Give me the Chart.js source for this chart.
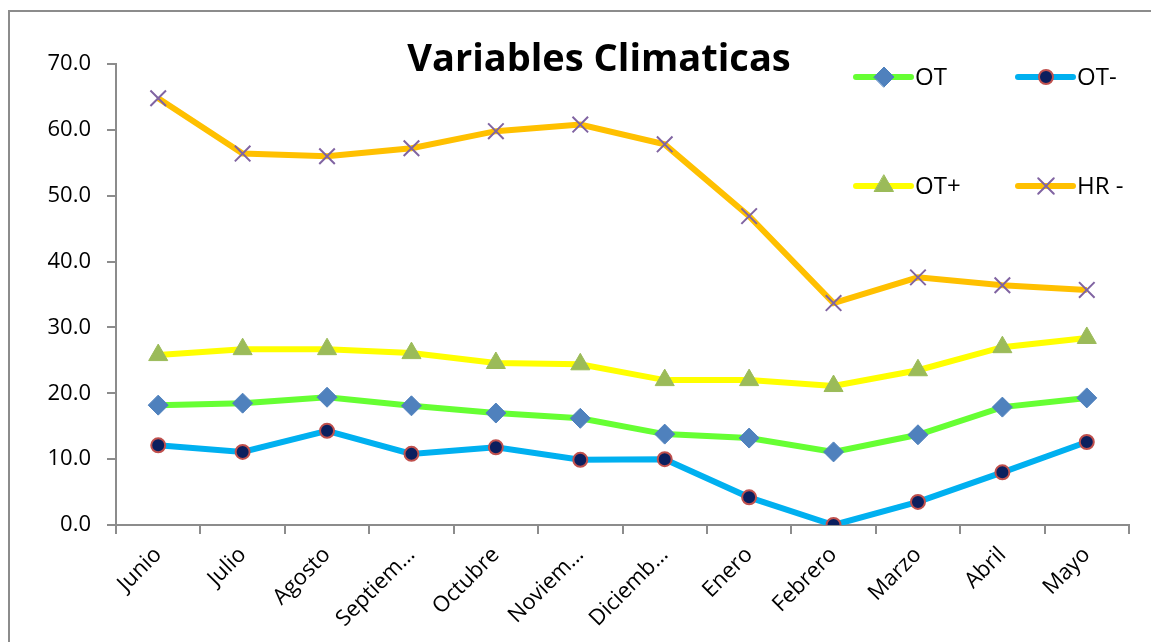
<!DOCTYPE html>
<html>
<head>
<meta charset="utf-8">
<script src="https://cdn.jsdelivr.net/npm/chart.js@4/dist/chart.umd.min.js"></script>
<style>
  body { margin: 0; background: #fff; }
  .frame { position: absolute; left: 8px; top: 10px; width: 1200px; height: 700px;
           border-left: 2px solid #8c8c8c; border-top: 2px solid #8c8c8c; }
  .chart-container { position: absolute; left: 0; top: 0; width: 1151px; height: 642px; }
</style>
</head>
<body>
<div class="frame"></div>
<div class="chart-container"><canvas id="climaChart"></canvas></div>
<script>
const meses = ['Junio', 'Julio', 'Agosto', 'Septiem…', 'Octubre', 'Noviem…', 'Diciemb…', 'Enero', 'Febrero', 'Marzo', 'Abril', 'Mayo'];
const ot      = [18.2, 18.5, 19.4, 18.1, 17.0, 16.2, 13.8, 13.2, 11.1, 13.7, 17.9, 19.3];
const otMenos = [12.1, 11.1, 14.3, 10.8, 11.8, 9.9, 10.0, 4.2, 0.0, 3.5, 8.0, 12.6];
const otMas   = [25.8, 26.7, 26.7, 26.1, 24.6, 24.4, 22.0, 22.0, 21.1, 23.5, 27.0, 28.4];
const hrMenos = [64.8, 56.4, 56.0, 57.2, 59.8, 60.8, 57.8, 46.9, 33.7, 37.6, 36.4, 35.7];
const yTicks  = [0, 10, 20, 30, 40, 50, 60, 70];

const FONT = '"Open Sans", sans-serif';

// title + 2x2 legend drawn like the Excel original
const excelDecor = {
    id: 'excelDecor',
    afterDraw(chart) {
        const ctx = chart.ctx;
        ctx.save();
        ctx.fillStyle = '#000';
        ctx.font = 'bold 38px ' + FONT;
        ctx.textAlign = 'center';
        ctx.textBaseline = 'middle';
        ctx.fillText('Variables Climaticas', 599, 60);

        const slots = [[856, 77], [1018, 77], [856, 186], [1018, 186]];
        chart.data.datasets.forEach((ds, i) => {
            const [x, y] = slots[i];
            ctx.strokeStyle = ds.borderColor;
            ctx.lineWidth = 6;
            ctx.lineCap = 'round';
            ctx.beginPath();
            ctx.moveTo(x, y);
            ctx.lineTo(x + 55, y);
            ctx.stroke();
            ctx.fillStyle = ds.pointBackgroundColor;
            ctx.strokeStyle = ds.pointBorderColor;
            ctx.lineWidth = ds.pointBorderWidth;
            Chart.helpers.drawPoint(ctx, {
                pointStyle: ds.pointStyle, radius: ds.pointRadius,
                rotation: 0, borderWidth: ds.pointBorderWidth
            }, x + 28, y);
            ctx.fillStyle = '#000';
            ctx.font = '24px ' + FONT;
            ctx.textAlign = 'left';
            ctx.fillText(ds.label, x + 59, y + 1);
        });
        ctx.restore();
    }
};

const ctx = document.getElementById('climaChart').getContext('2d');
new Chart(ctx, {
    type: 'line',
    data: {
        labels: meses,
        datasets: [{
            label: 'OT', data: ot,
            borderColor: '#66FF33', borderWidth: 6,
            pointStyle: 'rectRot', pointRadius: 10,
            pointBackgroundColor: '#4F81BD', pointBorderColor: '#4F81BD', pointBorderWidth: 1
        }, {
            label: 'OT-', data: otMenos,
            borderColor: '#00B0F0', borderWidth: 6,
            pointStyle: 'circle', pointRadius: 7,
            pointBackgroundColor: '#0B1F5E', pointBorderColor: '#C0504D', pointBorderWidth: 2
        }, {
            label: 'OT+', data: otMas,
            borderColor: '#FFFF00', borderWidth: 6,
            pointStyle: 'triangle', pointRadius: 11,
            pointBackgroundColor: '#9BBB59', pointBorderColor: '#9BBB59', pointBorderWidth: 1
        }, {
            label: 'HR -', data: hrMenos,
            borderColor: '#FFC000', borderWidth: 6,
            pointStyle: 'crossRot', pointRadius: 11,
            pointBackgroundColor: '#8064A2', pointBorderColor: '#8064A2', pointBorderWidth: 2
        }]
    },
    options: {
        responsive: true,
        maintainAspectRatio: false,
        animation: false,
        layout: { padding: { top: 64, right: 22, left: 0, bottom: 0 } },
        elements: { line: { tension: 0 } },
        scales: {
            y: {
                min: 0, max: 70,
                afterBuildTicks: (s) => { s.ticks = yTicks.map(v => ({ value: v })); },
                afterFit: (s) => { s.width = 116; },
                ticks: {
                    callback: (v) => Number(v).toFixed(1),
                    color: '#000', padding: 16,
                    font: { family: FONT, size: 22 }
                },
                grid: { drawOnChartArea: false, tickLength: 9, color: '#8c8c8c', lineWidth: 2 },
                border: { color: '#8c8c8c', width: 2 }
            },
            x: {
                offset: true,
                afterFit: (s) => { s.height = 117; },
                ticks: {
                    color: '#000', maxRotation: 45, minRotation: 45, autoSkip: false,
                    padding: 8,
                    font: { family: FONT, size: 22 }
                },
                grid: { offset: true, drawOnChartArea: false, tickLength: 9, color: '#8c8c8c', lineWidth: 2 },
                border: { color: '#8c8c8c', width: 2 }
            }
        },
        plugins: {
            legend: { display: false },
            title: { display: false },
            tooltip: { enabled: false }
        }
    },
    plugins: [excelDecor]
});
</script>
</body>
</html>
